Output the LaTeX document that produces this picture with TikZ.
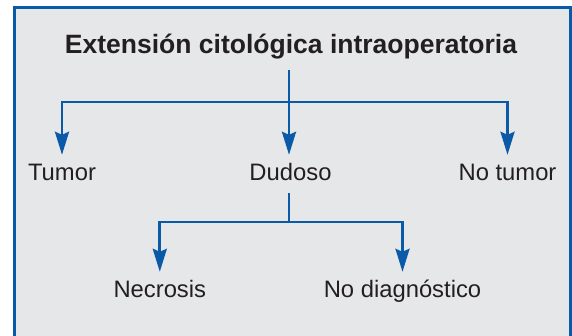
\documentclass[tikz,border=0pt]{standalone}
\usepackage{fontspec}
\setmainfont{Liberation Sans}
\usetikzlibrary{arrows.meta}
\definecolor{frameblue}{HTML}{0B5AA8}
\definecolor{panelgray}{HTML}{E6E7E9}
\definecolor{inkc}{HTML}{231F20}
\tikzset{
  lbl/.style={inner xsep=0pt, inner ysep=8pt, text height=17pt, text depth=5pt, font=\fontsize{23.8pt}{26pt}\selectfont, text=inkc},
  ttl/.style={inner xsep=0pt, inner ysep=11pt, text height=19pt, text depth=6pt, font=\fontsize{26.5pt}{30pt}\selectfont\bfseries, text=inkc},
  conn/.style={draw=frameblue, line width=2.8pt},
  arr/.style={conn, -{Stealth[length=23pt, width=14pt, inset=3pt]}},
}
\begin{document}
\begin{tikzpicture}[x=1pt, y=-1pt]
\useasboundingbox (0,0) rectangle (572,335);
\clip (0,0) rectangle (572,335);
\draw[fill=panelgray, draw=frameblue, line width=3pt] (14.5,7.3) rectangle (570.5,350);
\node[ttl, anchor=base] (t) at (291,53) {Extensión citológica intraoperatoria};
\node[lbl, anchor=base] (tumor) at (62,180) {Tumor};
\node[lbl, anchor=base] (dud) at (290.5,180) {Dudoso};
\node[lbl, anchor=base] (notumor) at (507.5,180) {No tumor};
\node[lbl, anchor=base] (necr) at (159.8,297) {Necrosis};
\node[lbl, anchor=base] (nodiag) at (402.5,297) {No diagnóstico};
\coordinate (j1) at (289,102);
\coordinate (j2) at (289,222);
\draw[arr] (t.south -| j1) -- (j1 |- dud.north);
\draw[arr] (j1) -| (tumor.north);
\draw[arr] (j1) -| (notumor.north);
\draw[conn] (dud.south -| j2) -- (j2);
\draw[arr] (j2) -| (necr.north);
\draw[arr] (j2) -| (nodiag.north);
\end{tikzpicture}
\end{document}
